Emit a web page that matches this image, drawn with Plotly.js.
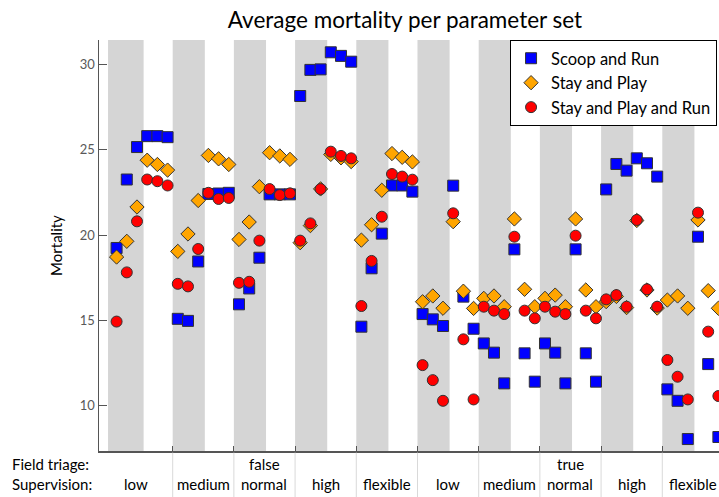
<!DOCTYPE html>
<html>
<head>
<meta charset="utf-8">
<script src="https://cdn.plot.ly/plotly-3.0.1.min.js"></script>
<style>
html,body{margin:0;padding:0;overflow:hidden;background:#fff;}
#chart{width:719px;height:497px;}
</style>
</head>
<body>
<div id="chart"></div>
<script>
// ---- data ----
const fieldTriage = ["false", "true"];
const supervision = ["low", "medium", "normal", "high", "flexible"];
const setsPerGroup = 6;

const scoopAndRun = [
  19.24, 23.25, 25.15, 25.79, 25.79, 25.73,
  15.09, 14.97, 18.45, 22.40, 22.43, 22.47,
  15.94, 16.87, 18.67, 22.38, 22.38, 22.38,
  28.14, 29.67, 29.70, 30.70, 30.49, 30.15,
  14.63, 18.05, 20.08, 22.90, 22.90, 22.54,
  15.37, 15.06, 14.67, 22.89, 16.39, 14.51,
  13.65, 13.11, 11.31, 19.16, 13.07, 11.41,
  13.65, 13.11, 11.31, 19.16, 13.07, 11.41,
  22.67, 24.16, 23.77, 24.49, 24.20, 23.42,
  10.96, 10.29, 8.05, 19.90, 12.44, 8.17
];
const stayAndPlay = [
  18.71, 19.63, 21.64, 24.38, 24.13, 23.80,
  19.04, 20.06, 22.02, 24.66, 24.46, 24.13,
  19.74, 20.76, 22.83, 24.82, 24.63, 24.43,
  19.55, 20.55, 22.70, 24.72, 24.52, 24.30,
  19.70, 20.60, 22.62, 24.77, 24.55, 24.28,
  16.09, 16.43, 15.71, 20.78, 16.71, 15.70,
  16.29, 16.43, 15.80, 20.94, 16.82, 15.80,
  16.29, 16.48, 15.80, 20.94, 16.78, 15.80,
  16.10, 16.40, 15.75, 20.85, 16.78, 15.72,
  16.19, 16.43, 15.71, 20.88, 16.74, 15.71
];
const stayAndPlayAndRun = [
  14.93, 17.81, 20.80, 23.25, 23.15, 22.90,
  17.14, 16.99, 19.18, 22.47, 22.11, 22.17,
  17.20, 17.26, 19.67, 22.69, 22.34, 22.44,
  19.67, 20.68, 22.69, 24.88, 24.63, 24.49,
  15.84, 18.48, 21.07, 23.57, 23.42, 23.24,
  12.38, 11.50, 10.29, 21.27, 13.89, 10.37,
  15.80, 15.57, 15.37, 19.90, 15.57, 15.12,
  15.80, 15.51, 15.37, 19.96, 15.57, 15.12,
  16.23, 16.48, 15.80, 20.88, 16.82, 15.80,
  12.68, 11.70, 10.37, 21.31, 14.34, 10.57
];
const yTicks = [10, 15, 20, 25, 30];

// ---- build ----
const FONT = "Lato, 'Open Sans', sans-serif";
const xs = scoopAndRun.map((_, i) => i);
const nGroups = fieldTriage.length * supervision.length;
const xMin = -1.725, xMax = 59.06;

function tr(name, y, symbol, color) {
  return {
    type: "scatter", mode: "markers", name: name, x: xs, y: y,
    marker: {symbol: symbol, size: 11, color: color, line: {color: "#333333", width: 1}},
    cliponaxis: true, hoverinfo: "y"
  };
}
const data = [
  tr("Scoop and Run", scoopAndRun, "square", "#0000ff"),
  tr("Stay and Play", stayAndPlay, "diamond", "#ffa500"),
  tr("Stay and Play and Run", stayAndPlayAndRun, "circle", "#ff0000")
];

const shapes = [];
const annotations = [];
const boundaries = [];
for (let k = 0; k < nGroups; k++) {
  const start = k * setsPerGroup - 0.5;
  shapes.push({
    type: "rect", layer: "below", xref: "x", yref: "paper",
    x0: k === 0 ? -0.84 : start, x1: start + 3.15, y0: 0, y1: 1,
    fillcolor: "#d5d5d5", line: {width: 0}
  });
  if (k > 0) {
    boundaries.push(start);
    shapes.push({
      type: "line", xref: "x", yref: "paper", x0: start, x1: start,
      y0: -0.004, y1: -0.12, line: {color: "#d9d9d9", width: 1}
    });
  }
  const left = k === 0 ? xMin : start;
  const right = start + setsPerGroup;
  annotations.push({
    xref: "x", yref: "paper", x: (left + right) / 2, y: -0.080,
    text: supervision[k % supervision.length], showarrow: false,
    xanchor: "center", yanchor: "middle",
    font: {family: FONT, size: 15, color: "#000"}
  });
}
fieldTriage.forEach((ft, j) => {
  const mid = (j * supervision.length + 2) * setsPerGroup + 2.5;
  annotations.push({
    xref: "x", yref: "paper", x: mid, y: -0.031, text: ft, showarrow: false,
    xanchor: "center", yanchor: "middle", font: {family: FONT, size: 15, color: "#000"}
  });
});
annotations.push({
  xref: "paper", yref: "paper", x: -0.1435, y: -0.031, text: "Field triage:",
  showarrow: false, xanchor: "left", yanchor: "middle",
  font: {family: FONT, size: 15, color: "#000"}
});
annotations.push({
  xref: "paper", yref: "paper", x: -0.1435, y: -0.080, text: "Supervision:",
  showarrow: false, xanchor: "left", yanchor: "middle",
  font: {family: FONT, size: 15, color: "#000"}
});

const layout = {
  width: 719, height: 497,
  margin: {l: 99, r: 0, t: 40, b: 46, autoexpand: false},
  paper_bgcolor: "#ffffff", plot_bgcolor: "#ffffff",
  font: {family: FONT},
  title: {
    text: "Average mortality per parameter set",
    font: {family: FONT, size: 22.5, color: "#000"},
    x: 0.4935, xref: "paper", xanchor: "center",
    y: 1 - 20 / 497, yref: "container", yanchor: "middle"
  },
  showlegend: true,
  legend: {
    x: 0.663, y: 1, xanchor: "left", yanchor: "top",
    bgcolor: "#ffffff", bordercolor: "#000000", borderwidth: 1,
    font: {family: FONT, size: 16.5, color: "#000"},
    tracegroupgap: 0
  },
  xaxis: {
    range: [xMin, xMax], showgrid: false, zeroline: false,
    showline: true, linecolor: "#555555", linewidth: 1.5,
    tickmode: "array", tickvals: boundaries, ticks: "inside", ticklen: 5,
    tickcolor: "#555555", showticklabels: false, fixedrange: true
  },
  yaxis: {
    range: [7.35, 31.42], showgrid: false, zeroline: false,
    showline: true, linecolor: "#555555", linewidth: 1.5,
    tickmode: "array", tickvals: yTicks, ticks: "inside", ticklen: 8,
    tickcolor: "#555555",
    tickfont: {family: FONT, size: 13, color: "#595959"},
    title: {text: "Mortality", font: {family: FONT, size: 15, color: "#000"}, standoff: 13},
    automargin: false, fixedrange: true
  },
  shapes: shapes,
  annotations: annotations
};

Plotly.newPlot("chart", data, layout, {displayModeBar: false, staticPlot: true});
</script>
</body>
</html>
